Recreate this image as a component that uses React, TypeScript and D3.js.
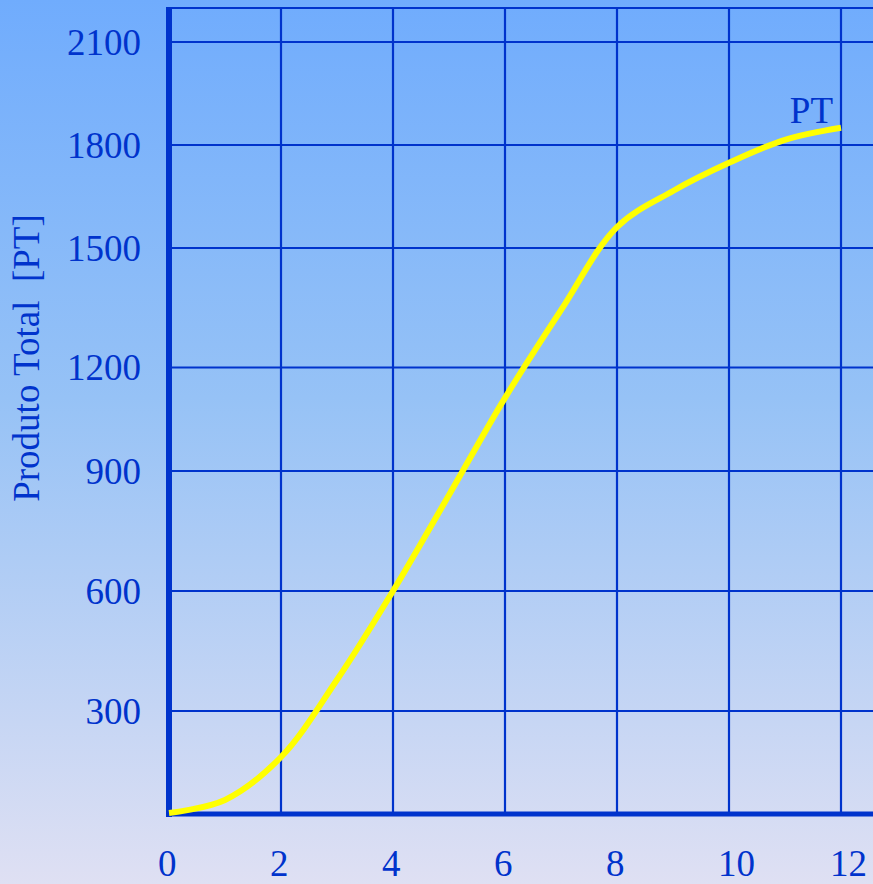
import React from "react";
import * as d3 from "d3";

const W = 873;
const H = 884;

// Data
const xValues = [0, 1, 2, 3, 4, 5, 6, 7, 8, 9, 10, 11, 12];
const ptValues = [3, 41, 166, 378, 600, 840, 1112, 1344, 1561, 1666, 1748, 1815, 1850];
const xTicks = [0, 2, 4, 6, 8, 10, 12];
const yTicks = [300, 600, 900, 1200, 1500, 1800, 2100];
const yTitle = "Produto Total  [PT]";
const seriesLabel = "PT";

// Scales (the reference grid is drawn with uneven spacing, hence a piecewise scale)
const yDomain = [0, 300, 600, 900, 1200, 1500, 1800, 2100, 2200];
const yRange = [814, 711, 591, 471, 367.5, 248, 145, 42, 8];

const BLUE = "#0033cc";
const FONT = "'Liberation Serif', 'Times New Roman', serif";

export default function App() {
  const x = d3.scaleLinear().domain([0, 12]).range([169, 841]);
  const y = d3.scaleLinear().domain(yDomain).range(yRange);
  const yTop = y(2200);
  const yBottom = y(0);

  const line = d3
    .line<number>()
    .x((_, i) => x(xValues[i]))
    .y((d) => y(d))
    .curve(d3.curveCatmullRom.alpha(0.5));

  const last = ptValues.length - 1;

  return (
    <svg
      width={W}
      height={H}
      style={{ position: "absolute", left: 0, top: 0, display: "block" }}
      fontFamily={FONT}
    >
      <defs>
        <linearGradient id="bg" x1="0" y1="0" x2="0" y2="1">
          <stop offset="0" stopColor="#70acfd" />
          <stop offset="0.45" stopColor="#96c2f6" />
          <stop offset="1" stopColor="#dfe0f3" />
        </linearGradient>
      </defs>
      <rect x={0} y={0} width={W} height={H} fill="url(#bg)" />

      {/* horizontal grid */}
      {yTicks.map((t) => (
        <line key={"h" + t} x1={x(0)} x2={W} y1={y(t)} y2={y(t)} stroke={BLUE} strokeWidth={2.2} />
      ))}
      {/* top frame */}
      <line x1={x(0)} x2={W} y1={yTop} y2={yTop} stroke={BLUE} strokeWidth={2.2} />
      {/* vertical grid */}
      {xTicks
        .filter((t) => t > 0)
        .map((t) => (
          <line key={"v" + t} x1={x(t)} x2={x(t)} y1={yTop} y2={yBottom} stroke={BLUE} strokeWidth={2.2} />
        ))}

      {/* axes */}
      <line x1={x(0)} x2={x(0)} y1={yTop - 1} y2={yBottom + 3} stroke={BLUE} strokeWidth={6} />
      <line x1={x(0) - 3} x2={W} y1={yBottom} y2={yBottom} stroke={BLUE} strokeWidth={5} />

      {/* y tick labels */}
      {yTicks.map((t) => (
        <text key={"yl" + t} x={141} y={y(t) + 12.5} textAnchor="end" fontSize={37} fill={BLUE}>
          {t}
        </text>
      ))}
      {/* x tick labels */}
      {xTicks.map((t) => (
        <text key={"xl" + t} x={x(t) - 11} y={876} textAnchor="start" fontSize={37} fill={BLUE}>
          {t}
        </text>
      ))}

      {/* y title */}
      <text
        transform={`translate(39, ${358}) rotate(-90)`}
        textAnchor="middle"
        fontSize={37}
        fill={BLUE}
        style={{ whiteSpace: "pre" }}
      >
        {yTitle}
      </text>

      {/* curve */}
      <path d={line(ptValues) || ""} fill="none" stroke="#ffff00" strokeWidth={6} strokeLinecap="butt" />

      {/* series label */}
      <text
        x={x(xValues[last]) - 8}
        y={y(ptValues[last]) - 5}
        textAnchor="end"
        fontSize={37}
        fill={BLUE}
      >
        {seriesLabel}
      </text>
    </svg>
  );
}
